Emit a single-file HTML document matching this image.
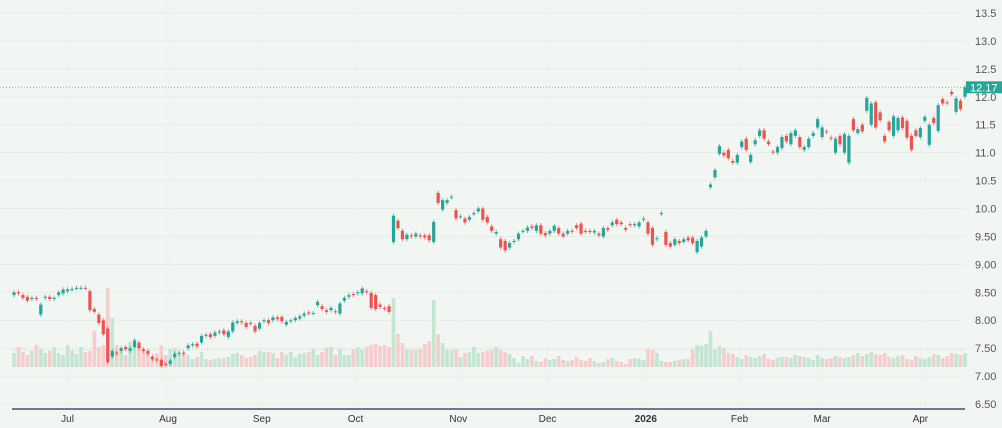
<!DOCTYPE html>
<html><head><meta charset="utf-8">
<style>
html,body{margin:0;padding:0;background:#f2f6f3;}
svg{display:block;font-family:"Liberation Sans",sans-serif;}
</style></head>
<body>
<svg id="chart" width="1002" height="428" viewBox="0 0 1002 428" xmlns="http://www.w3.org/2000/svg">
<rect x="0" y="0" width="1002" height="428" fill="#f2f6f3"/>
<g id="grid"></g>
<g id="vol"></g>
<g id="candles"></g>
<g id="axes"></g>
</svg>
<script>
const opens = [8.45,8.5,8.45,8.42,8.38,8.4,8.1,8.4,8.42,8.38,8.45,8.48,8.52,8.55,8.57,8.58,8.58,8.52,8.2,8.1,8.0,7.85,7.35,7.42,7.45,7.52,7.45,7.52,7.6,7.48,7.45,7.35,7.3,7.29,7.22,7.22,7.34,7.4,7.42,7.5,7.55,7.58,7.6,7.72,7.75,7.72,7.78,7.82,7.7,7.8,7.95,7.98,7.95,7.95,7.9,7.85,7.98,8.0,8.0,8.05,8.06,7.92,7.98,8.0,8.03,8.08,8.14,8.12,8.27,8.25,8.18,8.18,8.16,8.12,8.35,8.42,8.47,8.48,8.48,8.52,8.49,8.45,8.28,8.22,8.25,9.4,9.78,9.6,9.45,9.52,9.5,9.52,9.52,9.52,9.4,10.28,9.98,10.1,10.2,9.97,9.85,9.82,9.8,9.9,9.95,10.0,9.85,9.68,9.55,9.45,9.42,9.3,9.4,9.45,9.58,9.6,9.68,9.6,9.7,9.56,9.55,9.6,9.65,9.55,9.55,9.6,9.7,9.73,9.6,9.6,9.57,9.55,9.5,9.65,9.7,9.8,9.75,9.65,9.72,9.7,9.68,9.8,9.75,9.65,9.45,9.9,9.58,9.38,9.35,9.42,9.4,9.48,9.48,9.22,9.32,9.5,10.38,10.56,10.98,11.0,11.05,10.85,10.82,11.1,11.25,10.83,11.15,11.3,11.4,11.2,11.02,11.0,11.08,11.3,11.15,11.3,11.28,11.05,11.1,11.3,11.45,11.28,11.38,11.27,11.0,11.3,11.0,10.82,11.6,11.35,11.5,11.75,11.5,11.9,11.72,11.3,11.55,11.3,11.4,11.63,11.57,11.3,11.4,11.28,11.57,11.14,11.62,11.39,11.96,11.9,12.09,11.73,11.93,12.0,11.92];
const closes = [8.5,8.48,8.4,8.35,8.4,8.38,8.28,8.42,8.38,8.4,8.5,8.55,8.55,8.56,8.58,8.58,8.57,8.18,8.15,7.95,7.75,7.25,7.45,7.4,7.5,7.48,7.5,7.64,7.5,7.45,7.4,7.3,7.28,7.18,7.2,7.28,7.4,7.42,7.4,7.55,7.57,7.53,7.72,7.74,7.7,7.78,7.8,7.75,7.8,7.96,7.98,7.96,7.88,7.94,7.8,7.95,8.0,7.95,8.05,8.02,7.98,7.97,8.0,8.04,8.07,8.12,8.12,8.13,8.33,8.2,8.15,8.22,8.15,8.3,8.4,8.45,8.45,8.5,8.57,8.5,8.22,8.2,8.24,8.2,8.15,9.87,9.65,9.45,9.53,9.5,9.55,9.5,9.48,9.43,9.76,10.1,10.15,10.15,10.21,9.82,9.86,9.75,9.85,9.92,10.0,9.8,9.75,9.6,9.58,9.3,9.25,9.38,9.42,9.55,9.6,9.66,9.65,9.7,9.55,9.52,9.6,9.69,9.55,9.5,9.6,9.58,9.65,9.55,9.58,9.58,9.6,9.52,9.65,9.62,9.75,9.72,9.72,9.62,9.7,9.72,9.75,9.82,9.55,9.35,9.47,9.92,9.35,9.32,9.45,9.38,9.45,9.43,9.38,9.42,9.48,9.6,10.43,10.69,11.12,10.95,10.9,10.82,10.96,11.2,11.05,10.96,11.22,11.4,11.25,11.15,11.0,11.1,11.28,11.2,11.35,11.4,11.1,11.1,11.25,11.35,11.6,11.45,11.37,11.25,11.25,11.15,11.33,11.3,11.4,11.42,11.38,11.98,11.88,11.45,11.58,11.2,11.4,11.65,11.62,11.44,11.27,11.05,11.3,11.44,11.64,11.5,11.53,11.85,11.88,11.89,12.05,11.97,11.78,12.17];
const volumes = [14,20,15,12,16,22,18,14,16,20,14,12,22,16,13,20,15,16,36,20,22,79,49,22,16,12,25,20,22,18,14,10,14,22,12,18,19,14,13,12,8,10,15,8,7,8,9,9,10,13,14,12,9,10,12,16,15,15,14,9,15,12,15,10,13,14,15,18,12,15,19,20,12,18,12,12,18,20,17,20,22,23,21,22,20,69,33,24,18,17,17,18,23,26,67,33,24,17,17,18,10,14,15,20,14,15,16,17,20,17,15,13,9,4,11,8,11,6,5,9,7,8,11,7,6,7,10,7,6,9,6,4,5,8,9,6,5,3,8,9,8,7,18,17,14,6,5,5,6,7,8,8,18,22,21,23,36,18,21,19,14,13,10,8,12,10,9,11,13,8,7,9,10,10,9,12,11,10,9,7,12,9,8,9,11,10,9,10,12,14,11,13,15,13,12,14,10,9,11,12,8,7,11,9,8,10,13,12,9,11,14,13,12,14,17];
const priceTicks = [13.5,13.0,12.5,12.0,11.5,11.0,10.5,10.0,9.5,9.0,8.5,8.0,7.5,7.0,6.5];
const priceTickLabels = ["13.5","13.0","12.5","12.0","11.5","11.0","10.5","10.0","9.50","9.00","8.50","8.00","7.50","7.00","6.50"];
const monthLabels = ["Jul","Aug","Sep","Oct","Nov","Dec","2026","Feb","Mar","Apr"];
const monthIndex = [12,34.5,55.5,76.5,99.5,119.5,141.5,162.5,181,203];
const lastPriceLabel = "12.17";

const NS="http://www.w3.org/2000/svg";
const X0=14, X1=965;
const N=Math.min(opens.length,closes.length);
function xScale(i){return X0+(X1-X0)*i/(N-1);}
function yScale(p){return 13+(13.5-p)*55.86;}
function vScale(v){return 367-v;}
function mk(tag,attrs,parent){const e=document.createElementNS(NS,tag);for(const k in attrs)e.setAttribute(k,attrs[k]);parent.appendChild(e);return e;}
const G=document.getElementById('grid'),V=document.getElementById('vol'),C=document.getElementById('candles'),A=document.getElementById('axes');

priceTicks.forEach((p,k)=>{
  const l=mk('line',{x1:0,x2:965,y1:yScale(p),y2:yScale(p),stroke:'#e6ebe8','stroke-width':1},G);
  
  
  const t=mk('text',{x:975,y:yScale(p)+4,'font-size':11,fill:'#555'},A);
  t.textContent=priceTickLabels[k];
  
  
});
monthLabels.forEach((m,k)=>{
  const x=xScale(monthIndex[k]);
  const l=mk('line',{x1:x,x2:x,y1:0,y2:408,stroke:'#edf1ee','stroke-width':1},G);
  
  
  const t=mk('text',{x:x,y:422,'font-size':10,fill:'#333','text-anchor':'middle','font-weight':m==='2026'?'bold':'normal'},A);
  t.textContent=m;
  
  
});
const ax=mk('line',{x1:12,x2:965,y1:409,y2:409,stroke:'#4a4c66','stroke-width':1.5},A);



const vl=mk('line',{x1:12,x2:965,y1:350,y2:350,stroke:'#b9d9c8','stroke-width':1,'stroke-dasharray':'1,2'},V);



for(let i=0;i<N;i++){
  const up=closes[i]>=opens[i];
  if(i<volumes.length){
    const r=mk('rect',{x:xScale(i)-1.8,y:vScale(volumes[i]),width:3.6,height:volumes[i],fill:up?'#c4e5d2':'#f6cdcd'},V);
    
    
  }
  const col=up?'#26a69a':'#ef5350';
  const hi=Math.max(opens[i],closes[i])+0.04, lo=Math.min(opens[i],closes[i])-0.04;
  const x=xScale(i);
  const w=mk('line',{x1:x,x2:x,y1:yScale(hi),y2:yScale(lo),stroke:col,'stroke-width':1,opacity:0.7},C);
  
  
  const yt=yScale(Math.max(opens[i],closes[i])), yb=yScale(Math.min(opens[i],closes[i]));
  const b=mk('rect',{x:x-1.6,y:yt,width:3.2,height:Math.max(1,yb-yt),fill:col},C);
  
  
}
const lp=closes[N-1];
const dl=mk('line',{x1:0,x2:965,y1:yScale(lp),y2:yScale(lp),stroke:'#26a69a','stroke-width':1,'stroke-dasharray':'1,2',opacity:0.7},A);


const lb=mk('rect',{x:966,y:yScale(lp)-6,width:36,height:12,fill:'#26a69a'},A);


const lt=mk('text',{x:970,y:yScale(lp)+4,'font-size':11,fill:'#fff'},A);
lt.textContent=lastPriceLabel;


</script>
</body></html>
